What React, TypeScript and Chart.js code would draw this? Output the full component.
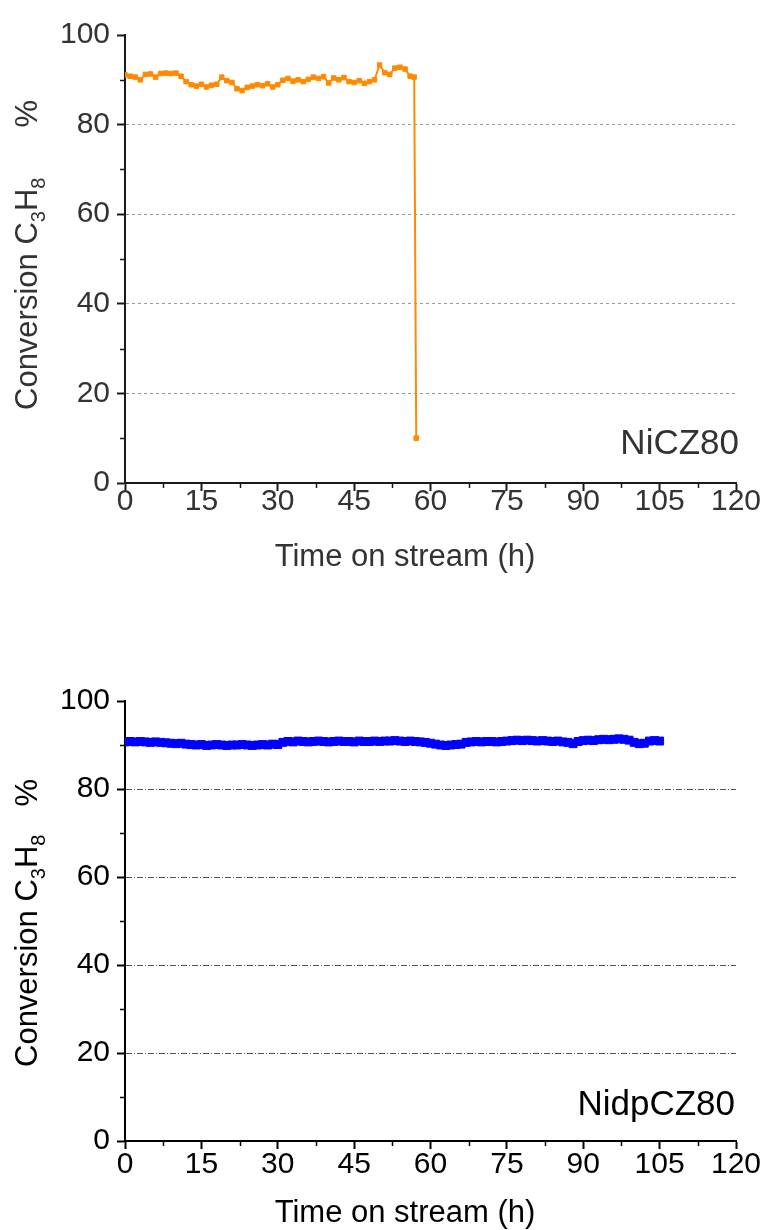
import React, { useEffect, useRef } from 'react';
import { Chart, registerables } from 'chart.js';

Chart.register(...registerables);

if (typeof document !== 'undefined') {
  document.body.style.margin = '0';
}

const FONT = '"Liberation Sans", Arial, Helvetica, sans-serif';

// Axis tick values
const xMinorTicks = [7.5, 22.5, 37.5, 52.5, 67.5, 82.5, 97.5, 112.5];
const yMinorTicks = [10, 30, 50, 70, 90];

const xAxisTitle = 'Time on stream (h)';

// NiCZ80: time on stream (h) and propane conversion (%)
const niczTime = [
  0, 1, 2, 3, 4, 5, 6, 7, 8, 9, 10, 11, 12, 13, 14, 15, 16, 17, 18, 19,
  20, 21, 22, 23, 24, 25, 26, 27, 28, 29, 30, 31, 32, 33, 34, 35, 36, 37, 38, 39,
  40, 41, 42, 43, 44, 45, 46, 47, 48, 49, 50, 51, 52, 53, 54, 55, 56, 56.8, 57.2,
];
const niczConversion = [
  91.1, 90.8, 90.6, 90.0, 91.2, 91.3, 90.6, 91.4, 91.5, 91.4,
  91.5, 90.8, 89.6, 88.9, 88.6, 89.0, 88.4, 88.8, 89.0, 90.6,
  89.8, 89.4, 88.0, 87.6, 88.3, 88.6, 88.9, 88.7, 89.1, 88.4,
  88.9, 89.9, 90.3, 89.7, 90.0, 89.6, 90.1, 90.6, 90.3, 90.7,
  89.3, 90.4, 90.0, 90.5, 89.6, 89.4, 89.8, 89.2, 89.6, 90.0,
  93.3, 91.6, 91.2, 92.6, 92.8, 92.4, 90.8, 90.6, 10.0,
];

// NidpCZ80: time on stream (h) and propane conversion (%)
const nidpTime = [
  0, 1, 2, 3, 4, 5, 6, 7, 8, 9, 10, 11, 12, 13, 14, 15, 16, 17, 18, 19,
  20, 21, 22, 23, 24, 25, 26, 27, 28, 29, 30, 31, 32, 33, 34, 35, 36, 37, 38, 39,
  40, 41, 42, 43, 44, 45, 46, 47, 48, 49, 50, 51, 52, 53, 54, 55, 56, 57, 58, 59,
  60, 61, 62, 63, 64, 65, 66, 67, 68, 69, 70, 71, 72, 73, 74, 75, 76, 77, 78, 79,
  80, 81, 82, 83, 84, 85, 86, 87, 88, 89, 90, 91, 92, 93, 94, 95, 96, 97, 98, 99,
  100, 101, 102, 103, 104, 105,
];
const nidpConversion = [
  90.7, 90.8, 90.7, 90.8, 90.7, 90.6, 90.7, 90.6, 90.5,
  90.4, 90.3, 90.4, 90.2, 90.1,
  90.0, 90.1, 89.9, 90.0, 90.1, 90.0, 89.9, 90.0, 90.0, 90.1, 90.0, 89.9, 90.0, 90.1, 90.0, 90.2, 90.1,
  90.6, 90.8, 90.7, 90.9, 90.8, 90.7, 90.8, 90.9, 90.8, 90.7, 90.8, 90.9, 90.8, 90.8, 90.7, 90.9, 90.8, 90.8, 90.9, 90.8, 90.9, 90.9,
  91.0, 90.9, 90.8, 90.9, 90.8, 90.7, 90.6, 90.4, 90.2,
  90.0, 89.9, 90.0, 90.1, 90.2,
  90.6, 90.7, 90.8, 90.7, 90.8, 90.8, 90.7, 90.8, 90.9, 91.0, 91.1, 91.0, 91.1, 91.0, 90.9, 91.0, 90.9, 90.8, 90.9, 90.7, 90.6, 90.3,
  90.8, 91.0, 91.1, 91.0, 91.2, 91.3, 91.2, 91.3, 91.4, 91.3, 91.1,
  90.6, 90.3, 90.4,
  90.9, 91.0, 90.9,
];

type PanelConfig = {
  id: string;
  name: string;
  time: number[];
  values: number[];
  height: number;
  plotTop: number;
  plotBottom: number;
  lineColor: string;
  lineWidth: number;
  pointRadius: number;
  textColor: string;
  axisColor: string;
  gridColor: string;
  gridDash: number[];
  xTickPadding: number;
  xTitleY: number;
  yTitleCenter: number;
  nameBaseline: number;
  nameRight: number;
  nameSize: number;
  percentGap: number;
};

const panels: PanelConfig[] = [
  {
    id: 'nicz80',
    name: 'NiCZ80',
    time: niczTime,
    values: niczConversion,
    height: 620,
    plotTop: 35,
    plotBottom: 483,
    lineColor: '#ff8a00',
    lineWidth: 2,
    pointRadius: 3.2,
    textColor: '#333333',
    axisColor: '#1a1a1a',
    gridColor: '#9a9a9a',
    gridDash: [3, 3],
    xTickPadding: -4,
    xTitleY: 557,
    yTitleCenter: 255,
    nameBaseline: 454,
    nameRight: 739,
    nameSize: 35,
    percentGap: 50,
  },
  {
    id: 'nidpcz80',
    name: 'NidpCZ80',
    time: nidpTime,
    values: nidpConversion,
    height: 610,
    plotTop: 81,
    plotBottom: 521,
    lineColor: '#0000ff',
    lineWidth: 4,
    pointRadius: 5.6,
    textColor: '#000000',
    axisColor: '#000000',
    gridColor: '#555555',
    gridDash: [6, 2, 1, 2],
    xTickPadding: 1,
    xTitleY: 593,
    yTitleCenter: 303,
    nameBaseline: 495,
    nameRight: 735,
    nameSize: 35,
    percentGap: 28,
  },
];

const CANVAS_WIDTH = 767;
const PLOT_LEFT = 125;
const PLOT_RIGHT = 736;

function drawYTitle(ctx: CanvasRenderingContext2D, cfg: PanelConfig) {
  const mainFont = `31px ${FONT}`;
  const subFont = `20px ${FONT}`;
  const parts: { text: string; sub: boolean; before?: number }[] = [
    { text: 'Conversion C', sub: false },
    { text: '3', sub: true },
    { text: 'H', sub: false },
    { text: '8', sub: true },
    { text: '%', sub: false, before: cfg.percentGap },
  ];
  let total = 0;
  const widths = parts.map((p) => {
    ctx.font = p.sub ? subFont : mainFont;
    const w = ctx.measureText(p.text).width;
    total += w + (p.before || 0);
    return w;
  });
  ctx.save();
  ctx.translate(37, cfg.yTitleCenter);
  ctx.rotate(-Math.PI / 2);
  ctx.fillStyle = cfg.textColor;
  ctx.textAlign = 'left';
  ctx.textBaseline = 'alphabetic';
  let x = -total / 2;
  parts.forEach((p, i) => {
    x += p.before || 0;
    ctx.font = p.sub ? subFont : mainFont;
    ctx.fillText(p.text, x, p.sub ? 8 : 0);
    x += widths[i];
  });
  ctx.restore();
}

function makeDecorations(cfg: PanelConfig) {
  return {
    id: 'decorations-' + cfg.id,
    afterDraw(chart: Chart) {
      const { ctx, chartArea } = chart;
      const xs = chart.scales.x;
      const ys = chart.scales.y;
      ctx.save();
      // minor ticks
      ctx.strokeStyle = cfg.axisColor;
      ctx.lineWidth = 1.5;
      ctx.beginPath();
      yMinorTicks.forEach((v) => {
        const py = Math.round(ys.getPixelForValue(v)) + 0.5;
        ctx.moveTo(chartArea.left - 5, py);
        ctx.lineTo(chartArea.left, py);
      });
      xMinorTicks.forEach((v) => {
        const px = Math.round(xs.getPixelForValue(v)) + 0.5;
        ctx.moveTo(px, chartArea.bottom);
        ctx.lineTo(px, chartArea.bottom + 5);
      });
      ctx.stroke();

      // x axis title
      ctx.fillStyle = cfg.textColor;
      ctx.font = `31px ${FONT}`;
      ctx.textAlign = 'center';
      ctx.textBaseline = 'middle';
      ctx.fillText(xAxisTitle, chartArea.left + 280, cfg.xTitleY);

      // catalyst name
      ctx.font = `${cfg.nameSize}px ${FONT}`;
      ctx.textAlign = 'right';
      ctx.textBaseline = 'alphabetic';
      ctx.fillText(cfg.name, cfg.nameRight, cfg.nameBaseline);
      ctx.restore();

      drawYTitle(ctx, cfg);
    },
  };
}

function Panel({ cfg }: { cfg: PanelConfig }) {
  const ref = useRef<HTMLCanvasElement | null>(null);

  useEffect(() => {
    if (!ref.current) return;
    const points = cfg.time.map((t, i) => ({ x: t, y: cfg.values[i] }));
    const tickFont = { family: FONT, size: 30, lineHeight: 1 };
    const chart = new Chart(ref.current, {
      type: 'line',
      data: {
        datasets: [
          {
            label: cfg.name,
            data: points,
            borderColor: cfg.lineColor,
            backgroundColor: cfg.lineColor,
            borderWidth: cfg.lineWidth,
            pointStyle: 'rect',
            pointRadius: cfg.pointRadius,
            pointBorderWidth: 1,
            pointBorderColor: cfg.lineColor,
            pointBackgroundColor: cfg.lineColor,
            tension: 0,
            fill: false,
          },
        ],
      },
      options: {
        responsive: false,
        animation: false,
        devicePixelRatio: 1,
        layout: {
          padding: {
            left: 0,
            right: CANVAS_WIDTH - PLOT_RIGHT,
            top: cfg.plotTop,
            bottom: 0,
          },
        },
        plugins: {
          legend: { display: false },
          tooltip: { enabled: false },
        },
        scales: {
          x: {
            type: 'linear',
            min: 0,
            max: 120,
            ticks: {
              stepSize: 15,
              autoSkip: false,
              maxRotation: 0,
              color: cfg.textColor,
              font: tickFont,
              padding: cfg.xTickPadding,
            },
            grid: {
              color: 'rgba(0,0,0,0)',
              drawOnChartArea: false,
              drawTicks: true,
              tickLength: 8,
              tickWidth: 2,
              tickColor: cfg.axisColor,
            },
            border: { display: true, color: cfg.axisColor, width: 2 },
            afterFit: (scale: any) => {
              scale.height = cfg.height - cfg.plotBottom;
            },
          },
          y: {
            type: 'linear',
            min: 0,
            max: 100,
            ticks: {
              stepSize: 20,
              color: cfg.textColor,
              font: tickFont,
              padding: 7,
            },
            grid: {
              color: (c: any) =>
                c.tick && c.tick.value > 0 && c.tick.value < 100 ? cfg.gridColor : 'rgba(0,0,0,0)',
              lineWidth: 1,
              drawTicks: true,
              tickLength: 8,
              tickWidth: 2,
              tickColor: cfg.axisColor,
            },
            border: { display: true, color: cfg.axisColor, width: 2, dash: cfg.gridDash },
            afterFit: (scale: any) => {
              scale.width = PLOT_LEFT;
            },
          },
        },
      },
      plugins: [makeDecorations(cfg)],
    } as any);
    return () => chart.destroy();
  }, [cfg]);

  return (
    <canvas
      ref={ref}
      width={CANVAS_WIDTH}
      height={cfg.height}
      style={{ display: 'block', width: CANVAS_WIDTH, height: cfg.height }}
    />
  );
}

export default function App() {
  return (
    <div style={{ width: CANVAS_WIDTH, background: '#ffffff' }}>
      {panels.map((p) => (
        <Panel key={p.id} cfg={p} />
      ))}
    </div>
  );
}
